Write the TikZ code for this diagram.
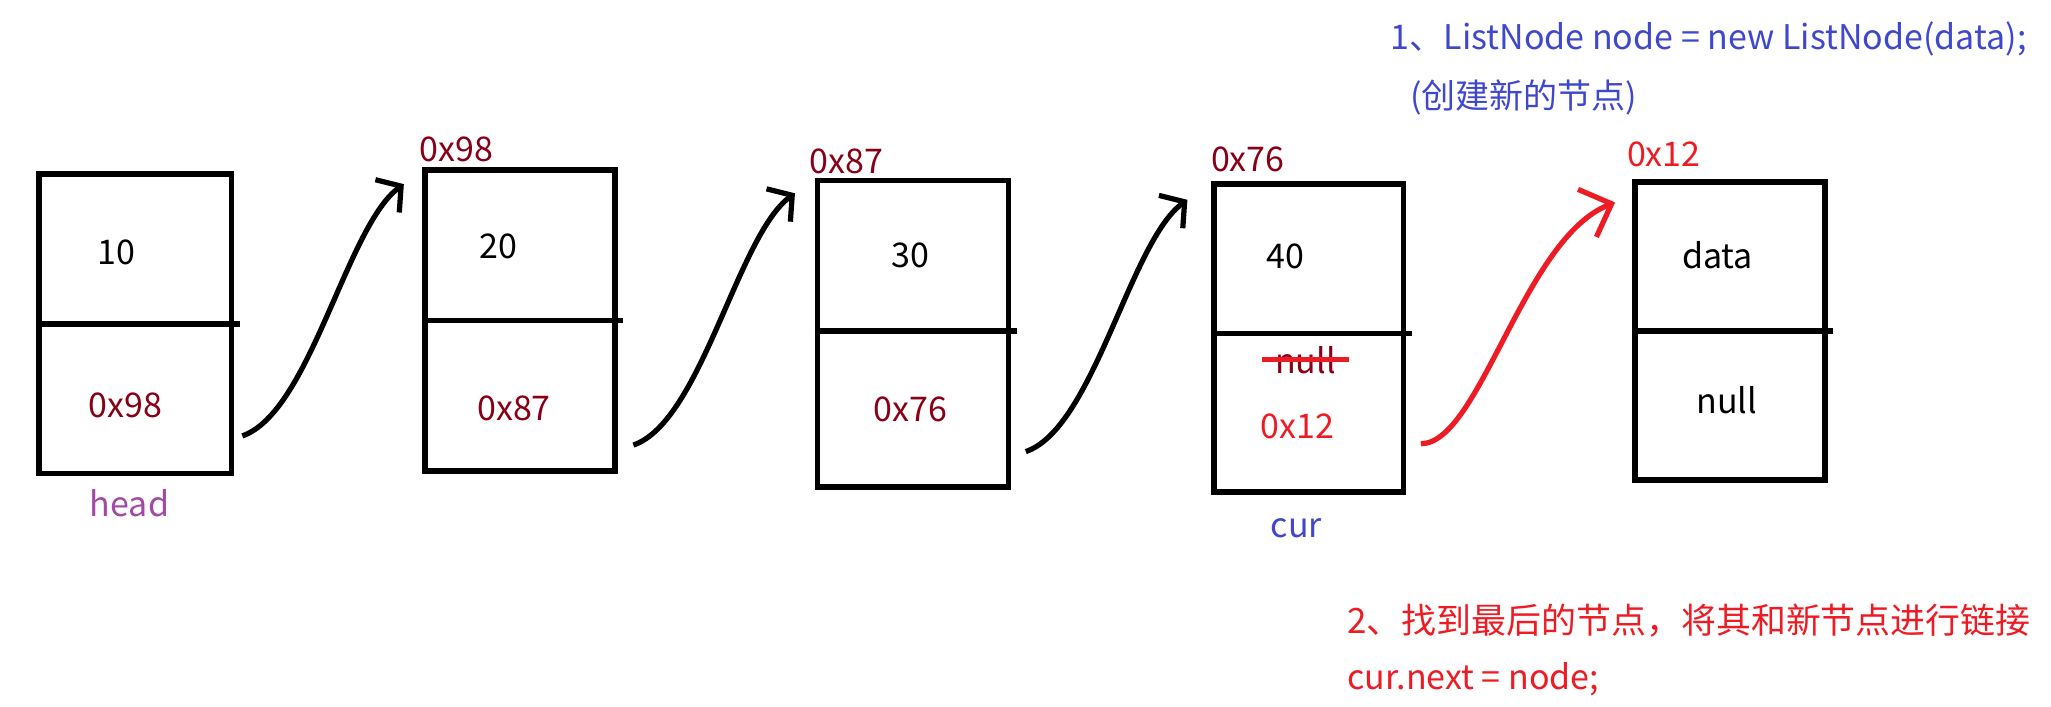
\documentclass[tikz,border=0pt]{standalone}
\usepackage{fontspec}
\setmainfont{Noto Sans CJK SC}
\usetikzlibrary{arrows.meta}

\definecolor{addr}{HTML}{880015}
\definecolor{pen}{HTML}{ED1C24}
\definecolor{note}{HTML}{3F48CC}
\definecolor{ptr}{HTML}{A349A4}

\tikzset{
  cell/.style={draw, line width=4.5pt, inner sep=0pt},
  txt/.style={font=\fontsize{26}{30}\selectfont, inner sep=0pt},
  link/.style={line width=4pt, -{Straight Barb[length=13pt,width=31pt]}},
  newlink/.style={link, pen, -{Straight Barb[length=20pt,width=39pt]}},
}

\begin{document}
\begin{tikzpicture}[x=1pt, y=-1pt]
  \useasboundingbox (0,0) rectangle (1568,540);

  % list boxes
  \node[cell, minimum width=147pt, minimum height=229pt] (b1) at (103.5,247.5) {};
  \node[cell, minimum width=145pt, minimum height=230pt] (b2) at (397.5,245) {};
  \node[cell, minimum width=146pt, minimum height=234pt] (b3) at (698,255) {};
  \node[cell, minimum width=145pt, minimum height=235pt] (b4) at (1000.5,258.5) {};
  \node[cell, minimum width=145pt, minimum height=228pt] (b5) at (1322.5,253) {};

  % val / next dividers
  \foreach \b/\d in {b1/0,b2/0,b3/2,b4/3.5,b5/0}
    \draw[line width=4.5pt] ([yshift=\d pt]\b.west) -- ([xshift=4pt,yshift=\d pt]\b.east);

  % box contents
  \node[txt] (v1) at (89,193) {10};
  \node[txt, text=addr] (p1) at (96,310) {0x98};
  \node[txt, text=ptr] (head) at (99,385) {head};

  \node[txt, text=addr] (a2) at (349,114) {0x98};
  \node[txt] (v2) at (381,188) {20};
  \node[txt, text=addr] (p2) at (393,312) {0x87};

  \node[txt, text=addr] (a3) at (647,123) {0x87};
  \node[txt] (v3) at (696,195) {30};
  \node[txt, text=addr] (p3) at (696,313) {0x76};

  \node[txt, text=addr] (a4) at (954,122) {0x76};
  \node[txt] (v4) at (983,196) {40};
  \node[txt, text=addr] (old4) at (998,275) {null};
  \node[txt, text=pen] (p4) at (992,326) {0x12};
  \node[txt, text=note] (cur) at (991,404) {cur};
  \draw[pen, line width=4pt] ([xshift=-10pt]old4.west) -- ([xshift=10pt]old4.east);

  \node[txt, text=pen] (a5) at (1272,118) {0x12};
  \node[txt] (v5) at (1313,195) {data};
  \node[txt] (p5) at (1320,306) {null};

  % next pointers
  \draw[link] ([xshift=6pt,yshift=31pt]b1.south east)
    .. controls +(52,-18) and +(-44,32) .. ([xshift=-14pt,yshift=-13pt]b2.north west);
  \draw[link] ([xshift=12pt,yshift=22pt]b2.south east)
    .. controls +(52,-18) and +(-44,32) .. ([xshift=-15pt,yshift=-12pt]b3.north west);
  \draw[link] ([xshift=11pt,yshift=29pt]b3.south east)
    .. controls +(52,-18) and +(-44,32) .. ([xshift=-18pt,yshift=-14pt]b4.north west);
  \draw[newlink] ([xshift=11pt,yshift=39pt]b4.south east)
    .. controls +(45,0) and +(-70,27) .. ([xshift=-13pt,yshift=-18pt]b5.north west);

  % notes
  \node[txt, text=note, anchor=base west] (step1) at (1063,38) {1、ListNode node = new ListNode(data);};
  \node[txt, text=note, anchor=base west] (step1b) at (1078,83) {(创建新的节点)};
  \node[txt, text=pen, anchor=base west, font=\fontsize{26.7}{30}\selectfont] (step2) at (1030,484) {2、找到最后的节点，将其和新节点进行链接};
  \node[txt, text=pen, anchor=base west] (step2b) at (1030,527) {cur.next = node;};
\end{tikzpicture}
\end{document}
